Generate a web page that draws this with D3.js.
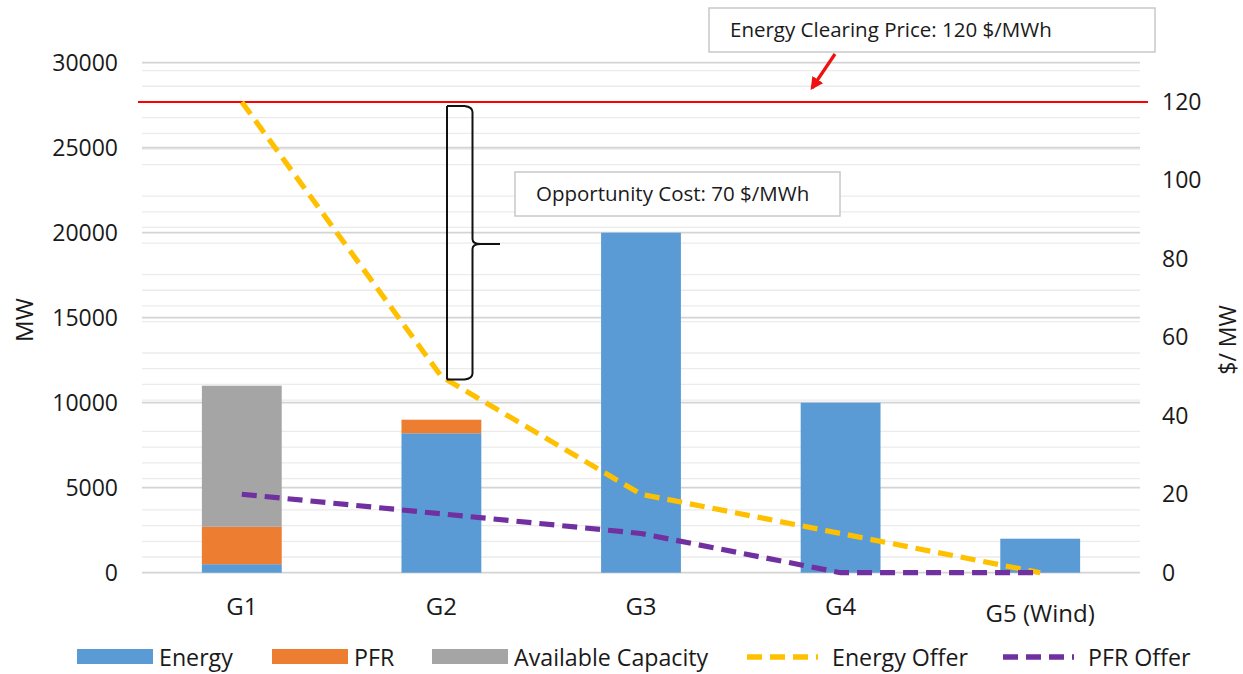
<!DOCTYPE html>
<html>
<head>
<meta charset="utf-8">
<script src="https://cdn.jsdelivr.net/npm/d3@7/dist/d3.min.js"></script>
<style>
  html, body { margin: 0; padding: 0; background: #fff; }
  svg { display: block; }
  text { font-family: "Open Sans", "Lato", "Liberation Sans", sans-serif; fill: #1a1a1a; }
</style>
</head>
<body>
<svg id="chart" width="1243" height="674"></svg>
<script>
// ---- data ----
const categories = ["G1", "G2", "G3", "G4", "G5 (Wind)"];
const energy = [500, 8200, 20000, 10000, 2000];
const pfr = [2200, 800, 0, 0, 0];
const availableCapacity = [8300, 0, 0, 0, 0];
const energyOffer = [120, 50, 20, 10, 0];
const pfrOffer = [20, 15, 10, 0, 0];
const leftTicks = [0, 5000, 10000, 15000, 20000, 25000, 30000];
const rightTicks = [0, 20, 40, 60, 80, 100, 120];
const clearingPrice = 120;
const seriesNames = ["Energy", "PFR", "Available Capacity", "Energy Offer", "PFR Offer"];

// ---- layout ----
const svg = d3.select("#chart");
const plot = { left: 142, right: 1140, top: 62.7, bottom: 572.7 };
const colors = { energy: "#5B9BD5", pfr: "#ED7D31", avail: "#A5A5A5", eOffer: "#FFC000", pOffer: "#7030A0" };
const FONT = "'Open Sans', Lato, sans-serif";

const x = d3.scaleBand().domain(categories).range([plot.left, plot.right]).paddingInner(0.6).paddingOuter(0.3);
const xc = d => x(d) + x.bandwidth() / 2;
const yL = d3.scaleLinear().domain([0, 30000]).range([plot.bottom, plot.top]);
const yR = d3.scaleLinear().domain([0, 130]).range([plot.bottom, plot.top]);

// gridlines: right-axis minor every 4, left-axis major every 5000
const minor = d3.range(4, 130, 4).filter(v => v % 20 !== 0);
svg.append("g").selectAll("line").data(minor).join("line")
  .attr("x1", plot.left).attr("x2", plot.right)
  .attr("y1", d => yR(d)).attr("y2", d => yR(d))
  .attr("stroke", "#ebebeb").attr("stroke-width", 1.3);
svg.append("g").selectAll("line").data(leftTicks).join("line")
  .attr("x1", plot.left).attr("x2", plot.right)
  .attr("y1", d => yL(d)).attr("y2", d => yL(d))
  .attr("stroke", "#d4d4d4").attr("stroke-width", 1.7);

// stacked bars
const rows = categories.map((c, i) => ({ cat: c, energy: energy[i], pfr: pfr[i], avail: availableCapacity[i] }));
const stack = d3.stack().keys(["energy", "pfr", "avail"])(rows);
const fill = { energy: colors.energy, pfr: colors.pfr, avail: colors.avail };
svg.append("g").selectAll("g").data(stack).join("g")
  .attr("fill", d => fill[d.key])
  .selectAll("rect").data(d => d).join("rect")
  .attr("x", d => x(d.data.cat))
  .attr("width", x.bandwidth())
  .attr("y", d => yL(d[1]))
  .attr("height", d => Math.max(0, yL(d[0]) - yL(d[1])));

// axes
const axL = svg.append("g").attr("transform", `translate(${plot.left},0)`)
  .call(d3.axisLeft(yL).tickValues(leftTicks).tickSize(0).tickPadding(24).tickFormat(d3.format("d")));
const axR = svg.append("g").attr("transform", `translate(${plot.right},0)`)
  .call(d3.axisRight(yR).tickValues(rightTicks).tickSize(0).tickPadding(22));
const axB = svg.append("g").attr("transform", `translate(0,${plot.bottom})`)
  .call(d3.axisBottom(x).tickSize(0).tickPadding(25));
[axL, axR].forEach(a => {
  a.select(".domain").remove();
  a.selectAll("text").attr("font-size", 23).attr("fill", "#1a1a1a").attr("font-family", FONT);
});
axB.select(".domain").remove();
axB.selectAll("text").attr("font-size", 24).attr("fill", "#1a1a1a").attr("font-family", FONT);
axB.selectAll("text").filter(d => d === "G5 (Wind)").attr("dy", "1.0em");

// axis titles
svg.append("text").attr("transform", "translate(33,320) rotate(-90)")
  .attr("text-anchor", "middle").attr("font-size", 24).text("MW");
svg.append("text").attr("transform", "translate(1236,340) rotate(-90)")
  .attr("text-anchor", "middle").attr("font-size", 23).text("$/ MW");

// clearing price line
svg.append("line").attr("x1", plot.left - 4).attr("x2", plot.right + 8)
  .attr("y1", yR(clearingPrice)).attr("y2", yR(clearingPrice))
  .attr("stroke", "#FF0000").attr("stroke-width", 2);

// offer lines
const line = d3.line().x((d, i) => xc(categories[i])).y(d => yR(d));
svg.append("path").datum(energyOffer).attr("d", line)
  .attr("fill", "none").attr("stroke", colors.eOffer).attr("stroke-width", 5.2)
  .attr("stroke-dasharray", "15,8");
svg.append("path").datum(pfrOffer).attr("d", line)
  .attr("fill", "none").attr("stroke", colors.pOffer).attr("stroke-width", 5.2)
  .attr("stroke-dasharray", "15,8");

// brace annotation
const bTop = yR(clearingPrice) + 4, bBot = yR(energyOffer[1]) + 3;
const bL = 447, bR = 472.5, bTip = 500, bMid = 244;
const bp = d3.path();
bp.moveTo(bL, bTop); bp.lineTo(bL, bBot);
bp.moveTo(bL, bTop); bp.lineTo(bR - 8, bTop); bp.quadraticCurveTo(bR, bTop + 1, bR, bTop + 6);
bp.lineTo(bR, bMid - 5); bp.quadraticCurveTo(bR, bMid, bR + 8, bMid); bp.lineTo(bTip, bMid);
bp.moveTo(bR + 8, bMid); bp.quadraticCurveTo(bR, bMid, bR, bMid + 5);
bp.lineTo(bR, bBot - 6); bp.quadraticCurveTo(bR, bBot - 1, bR - 8, bBot); bp.lineTo(bL, bBot);
svg.append("path").attr("d", bp.toString()).attr("fill", "none")
  .attr("stroke", "#111").attr("stroke-width", 2);

// text boxes
function box(x0, y0, w, h, txt) {
  svg.append("rect").attr("x", x0).attr("y", y0).attr("width", w).attr("height", h)
    .attr("fill", "#fff").attr("stroke", "#c8c8c8").attr("stroke-width", 1.5);
  svg.append("text").attr("x", x0 + 21).attr("y", y0 + h / 2 + 7).attr("font-size", 20.5).text(txt);
}
box(709, 8, 446, 44, "Energy Clearing Price: " + clearingPrice + " $/MWh");
box(515, 172, 325, 44, "Opportunity Cost: 70 $/MWh");

// red arrow
svg.append("defs").append("marker").attr("id", "arr").attr("viewBox", "0 0 10 10")
  .attr("refX", 8).attr("refY", 5).attr("markerWidth", 4).attr("markerHeight", 4)
  .attr("orient", "auto").append("path").attr("d", "M0,0 L10,5 L0,10 z").attr("fill", "#EE1111");
svg.append("line").attr("x1", 835).attr("y1", 54).attr("x2", 812).attr("y2", 88)
  .attr("stroke", "#EE1111").attr("stroke-width", 3.2).attr("marker-end", "url(#arr)");

// legend
const lg = svg.append("g");
const legendItems = [
  { name: seriesNames[0], type: "rect", color: colors.energy, x: 77 },
  { name: seriesNames[1], type: "rect", color: colors.pfr, x: 272 },
  { name: seriesNames[2], type: "rect", color: colors.avail, x: 432 },
  { name: seriesNames[3], type: "line", color: colors.eOffer, x: 747 },
  { name: seriesNames[4], type: "line", color: colors.pOffer, x: 1003 }
];
const ly = 657;
legendItems.forEach(it => {
  if (it.type === "rect") {
    lg.append("rect").attr("x", it.x).attr("y", ly - 8).attr("width", 76).attr("height", 15).attr("fill", it.color);
  } else {
    lg.append("line").attr("x1", it.x).attr("x2", it.x + 71).attr("y1", ly).attr("y2", ly)
      .attr("stroke", it.color).attr("stroke-width", 5.5).attr("stroke-dasharray", "15,8");
  }
  lg.append("text").attr("x", it.x + (it.type === "rect" ? 82 : 85)).attr("y", ly + 8.5)
    .attr("font-size", 23.2).text(it.name);
});
</script>
</body>
</html>
